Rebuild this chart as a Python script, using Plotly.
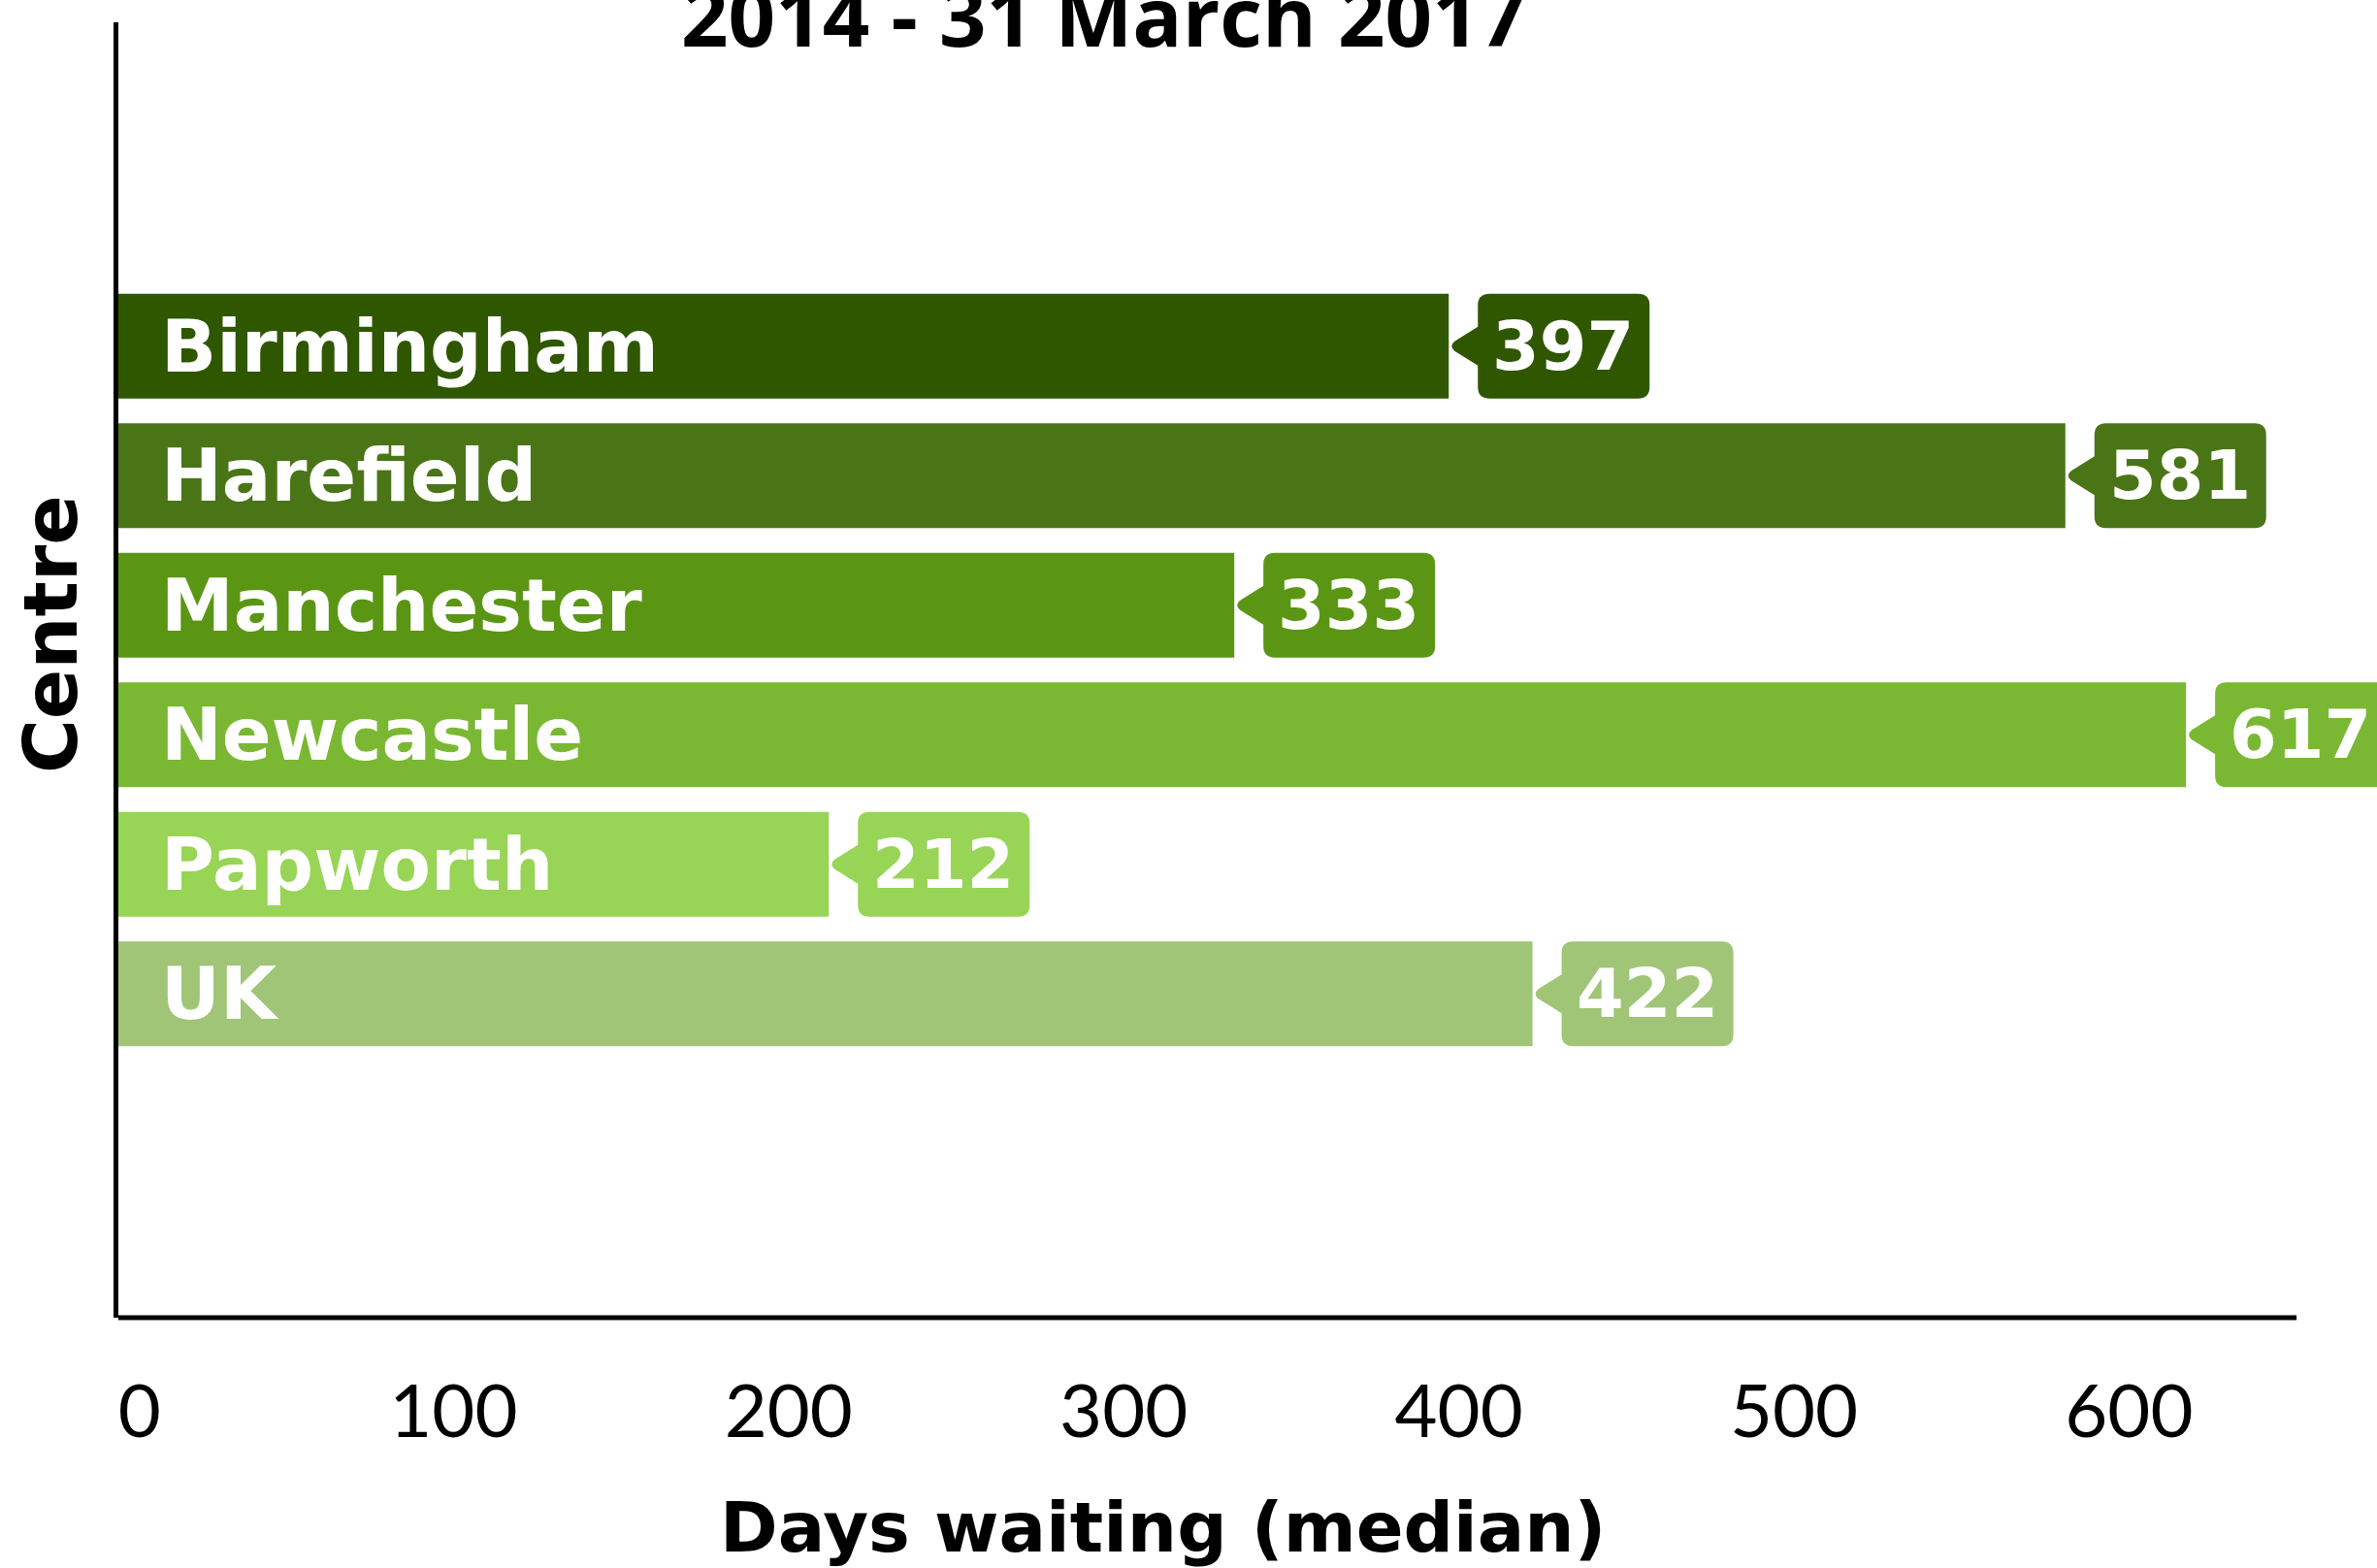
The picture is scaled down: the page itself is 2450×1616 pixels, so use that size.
import plotly.graph_objects as go

# ---- data ----
centres = ["Birmingham", "Harefield", "Manchester", "Newcastle", "Papworth", "UK"]
days = [397, 581, 333, 617, 212, 422]
colors = ["#2E5700", "#4A7517", "#5A9614", "#7AB833", "#98D455", "#A0C577"]
x_ticks = [0, 100, 200, 300, 400, 500, 600]
x_tick_labels = ["\u00a0\u00a0\u200a0", "100", "200", "300", "400", "500", "600"]
axis_max = 650          # end of the drawn x axis line
title_text = "2014 - 31 March 2017"
x_title = "Days waiting (median)"
y_title = "Centre"

WIDE = dict(family="DejaVu Sans", weight="bold")
TITLE = dict(family="Open Sans", weight="bold")

fig = go.Figure(
    go.Bar(
        x=days, y=centres, orientation="h",
        marker=dict(color=colors, line=dict(width=0)),
        width=0.81, hoverinfo="skip", showlegend=False,
    )
)

# callout box (pixel offsets from bar end / bar centre)
box_path = ("M 30 20 L 6 5 Q 0 0 6 -5 L 30 -20 L 30 -42 Q 30 -54 42 -54 "
            "L 195 -54 Q 207 -54 207 -42 L 207 42 Q 207 54 195 54 "
            "L 42 54 Q 30 54 30 42 Z")

shapes = [dict(
    type="line", xref="x", yref="paper", x0=0, x1=axis_max, y0=0, y1=0,
    line=dict(color="black", width=5), layer="above",
)]
annotations = []
for c, v, col in zip(centres, days, colors):
    shapes.append(dict(
        type="path", path=box_path, xref="x", yref="y",
        xsizemode="pixel", ysizemode="pixel", xanchor=v, yanchor=c,
        fillcolor=col, line=dict(width=0), layer="above",
    ))
    annotations.append(dict(
        x=v, y=c, xref="x", yref="y", text=str(v), showarrow=False,
        xanchor="center", yanchor="middle", xshift=118,
        font=dict(color="white", size=70, **WIDE),
    ))
    annotations.append(dict(
        x=0, y=c, xref="x", yref="y", text=c, showarrow=False,
        xanchor="left", yanchor="middle", xshift=42,
        font=dict(color="white", size=75, **WIDE),
    ))

annotations.append(dict(
    x=0.4626, y=-0.162, xref="paper", yref="paper", text=x_title, showarrow=False,
    xanchor="center", yanchor="middle", font=dict(color="black", size=72, **WIDE),
))
annotations.append(dict(
    x=-0.0301, y=0.528, xref="paper", yref="paper", text=y_title, showarrow=False,
    xanchor="center", yanchor="middle", textangle=-90,
    font=dict(color="black", size=76, **WIDE),
))
annotations.append(dict(
    x=0.436, y=1.006, xref="paper", yref="paper", text=title_text, showarrow=False,
    xanchor="center", yanchor="middle", font=dict(color="black", size=85, **TITLE),
))

fig.update_layout(
    width=2450, height=1616,
    margin=dict(l=122, r=0, t=23, b=258),
    paper_bgcolor="white", plot_bgcolor="white",
    shapes=shapes, annotations=annotations,
    xaxis=dict(
        range=[0, 674], tickvals=x_ticks, ticktext=x_tick_labels,
        showgrid=False, zeroline=False, showline=False,
        ticks="outside", ticklen=31, tickcolor="rgba(0,0,0,0)",
        tickfont=dict(family="Lato", size=76, color="black"),
        fixedrange=True,
    ),
    yaxis=dict(
        range=[len(centres) - 1 + 2.5, -2.5], showticklabels=False, ticks="",
        showgrid=False, zeroline=False, showline=True, linecolor="black", linewidth=5,
        fixedrange=True,
    ),
)

fig.write_html(
    "out.html",
    config=dict(displayModeBar=False),
    post_script="document.body.style.margin='0px';document.body.style.overflow='hidden';",
)
